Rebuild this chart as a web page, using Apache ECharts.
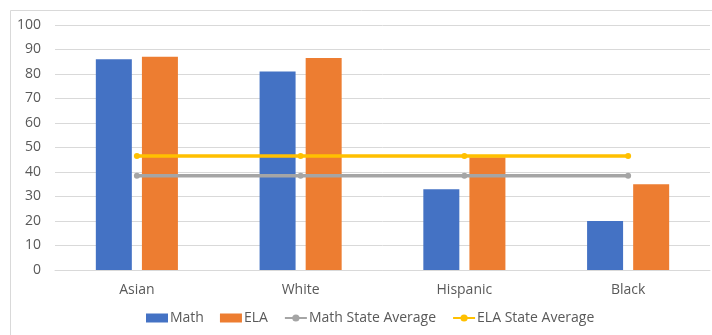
<!DOCTYPE html>
<html>
<head>
<meta charset="utf-8">
<style>
  html, body { margin: 0; padding: 0; background: #ffffff; }
  #chart { width: 712px; height: 335px; }
</style>
<script src="https://cdn.jsdelivr.net/npm/echarts@6/dist/echarts.min.js"></script>
</head>
<body>
<div id="chart"></div>
<script>
// Proficiency rates by student group
const categories = ['Asian', 'White', 'Hispanic', 'Black'];
const mathScores = [86, 81, 33, 20];
const elaScores = [87, 86.5, 46, 35];
const mathStateAverage = [38.5, 38.5, 38.5, 38.5];
const elaStateAverage = [46.5, 46.5, 46.5, 46.5];
const yTicks = { min: 0, max: 100, interval: 10 };

const textColor = '#595959';
const fontFamily = '"Open Sans", "Noto Sans", sans-serif';

const chart = echarts.init(document.getElementById('chart'), null, { renderer: 'canvas' });

chart.setOption({
  animation: false,
  backgroundColor: '#ffffff',
  textStyle: { fontFamily: fontFamily },
  graphic: [{
    type: 'rect',
    shape: { x: 10.5, y: 10.5, width: 720, height: 340 },
    style: { fill: 'none', stroke: '#d9d9d9', lineWidth: 1 },
    silent: true,
    z: -1
  }],
  grid: { left: 55, right: 2, top: 25, bottom: 65, containLabel: false },
  legend: {
    bottom: 5,
    left: 141,
    itemGap: 16,
    itemWidth: 22,
    itemHeight: 9,
    textStyle: { color: textColor, fontSize: 14, fontFamily: fontFamily, padding: [0, 0, 0, -3] },
    data: [
      { name: 'Math', icon: 'rect' },
      { name: 'ELA', icon: 'rect' },
      { name: 'Math State Average' },
      { name: 'ELA State Average' }
    ]
  },
  xAxis: {
    type: 'category',
    data: categories,
    axisLine: { show: true, lineStyle: { color: '#d9d9d9' } },
    axisTick: { show: false },
    axisLabel: { color: textColor, fontSize: 14, margin: 13 }
  },
  yAxis: {
    type: 'value',
    min: yTicks.min,
    max: yTicks.max,
    interval: yTicks.interval,
    axisLine: { show: false },
    axisTick: { show: false },
    axisLabel: { color: textColor, fontSize: 14, margin: 14 },
    splitLine: { lineStyle: { color: '#d9d9d9', width: 1 } }
  },
  series: [
    {
      name: 'Math',
      type: 'bar',
      data: mathScores,
      barWidth: 36,
      barGap: '28%',
      itemStyle: { color: '#4472c4' }
    },
    {
      name: 'ELA',
      type: 'bar',
      data: elaScores,
      barWidth: 36,
      barGap: '28%',
      itemStyle: { color: '#ed7d31' }
    },
    {
      name: 'Math State Average',
      type: 'line',
      data: mathStateAverage,
      symbol: 'circle',
      symbolSize: 6,
      lineStyle: { color: '#a5a5a5', width: 3.5 },
      itemStyle: { color: '#a5a5a5' },
      z: 3
    },
    {
      name: 'ELA State Average',
      type: 'line',
      data: elaStateAverage,
      symbol: 'circle',
      symbolSize: 6,
      lineStyle: { color: '#ffc000', width: 3.5 },
      itemStyle: { color: '#ffc000' },
      z: 3
    }
  ]
});
</script>
</body>
</html>
